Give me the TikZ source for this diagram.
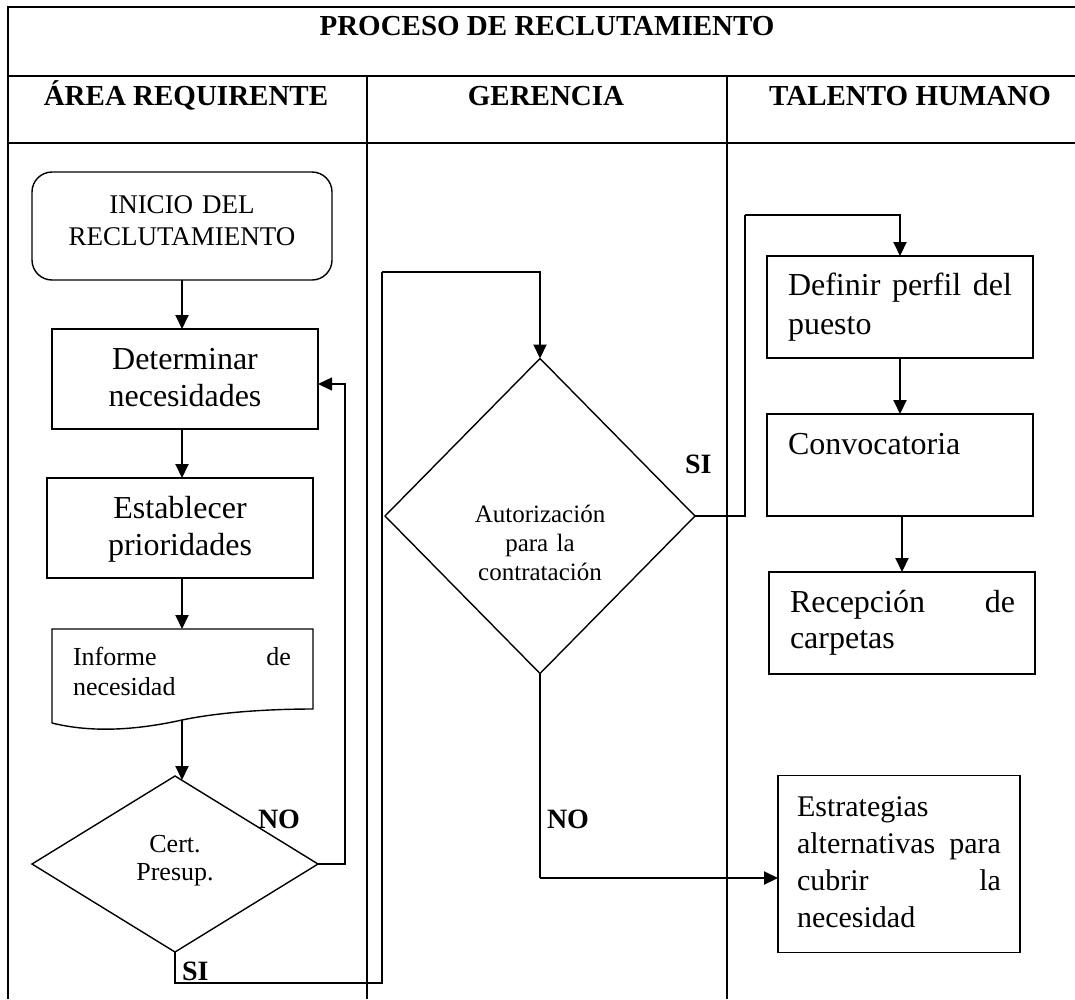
\documentclass[tikz,border=0pt]{standalone}
\usepackage{fontspec}
\setmainfont{Liberation Serif}
\usetikzlibrary{arrows.meta,shapes.geometric,calc}
\begin{document}
\begin{tikzpicture}[x=1pt,y=-1pt,
  grid/.style={line width=2.2pt},
  boxst/.style={draw,line width=1.4pt,inner sep=0pt,outer sep=0pt},
  dia/.style={diamond,draw,line width=1.4pt,inner sep=0pt,outer sep=0pt},
  txt/.style={inner sep=0pt,outer sep=0pt},
  head/.style={txt,font=\fontsize{29}{33}\selectfont\bfseries,anchor=base},
  lbl/.style={txt,font=\fontsize{28}{32}\selectfont\bfseries,anchor=base west},
  big/.style={txt,font=\fontsize{32}{37}\selectfont},
  conn/.style={line width=1.5pt},
  arr/.style={line width=2pt,-{Triangle[length=14pt,width=13pt]}},
  arrc/.style={line width=1.5pt,-{Triangle[length=14pt,width=13pt]}}
]
\useasboundingbox (0,0) rectangle (1075,999);
% ---- table ----
\draw[grid] (8,7) -- (1075,7);
\draw[grid] (8,76) -- (1075,76);
\draw[grid] (8,143) -- (1075,143);
\draw[grid] (8,6) -- (8,999);
\draw[grid] (367,76) -- (367,999);
\draw[grid] (727,76) -- (727,999);
\node[head] (title) at (547,35) {PROCESO DE RECLUTAMIENTO};
\node[head] (h1) at (186,105) {ÁREA REQUIRENTE};
\node[head] (h2) at (546,105) {GERENCIA};
\node[head] (h3) at (910,105) {TALENTO HUMANO};
% ---- area requirente ----
\node[boxst,rounded corners=20pt,minimum width=300pt,minimum height=108pt] (ini) at (182,226) {};
\node[txt,font=\fontsize{27}{32}\selectfont,text width=300pt,align=center,anchor=base] (init) at (182,213) {INICIO DEL\\RECLUTAMIENTO};
\node[boxst,minimum width=266pt,minimum height=100pt] (det) at (185,379) {};
\node[big,text width=266pt,align=center,anchor=base] (dett) at (185,369) {Determinar\\necesidades};
\node[boxst,minimum width=266pt,minimum height=100pt] (est) at (180,528) {};
\node[big,text width=266pt,align=center,anchor=base] (estt) at (180,518) {Establecer\\prioridades};
\coordinate (infTL) at (52,629);
\coordinate (infTR) at (313,629);
\coordinate (infBR) at (313,709);
\coordinate (infBL) at (52,723);
\coordinate (infB) at (182,720);
\draw[line width=1.4pt] (infBL) -- (infTL) -- (infTR) -- (infBR)
  .. controls (270,709) and (220,712) .. (infB)
  .. controls (150,727) and (100,735) .. (infBL);
\node[txt,font=\fontsize{26}{30}\selectfont,text width=218pt,align=left,anchor=base west] (inft) at (73,665) {\makebox[218pt][s]{Informe\hfill de}\\necesidad};
\node[dia,minimum width=286pt,minimum height=176pt] (cert) at (175,864) {};
\node[txt,font=\fontsize{26}{28}\selectfont,text width=120pt,align=center,anchor=base] (certt) at (175,852) {Cert.\\Presup.};
\coordinate (ax) at (182,0);
\draw[arr] (ini.south) -- (ini.south |- det.north);
\draw[arr] (ax |- det.south) -- (ax |- est.north);
\draw[arr] (ax |- est.south) -- (ax |- infTL);
\draw[arr] (infB) -- (182,780);
\coordinate (noL) at (345,384);
\draw[arrc] (cert.east) -| (noL) -- (noL -| det.east);
\node[lbl] (no1) at (258,828) {NO};
\coordinate (siA) at (382,983);
\coordinate (siB) at (382,272);
% ---- gerencia ----
\node[dia,minimum width=310pt,minimum height=315pt] (aut) at (540,516) {};
\node[txt,font=\fontsize{25}{29}\selectfont,text width=200pt,align=center,anchor=base] (autt) at (540,522) {Autorización\\para la\\contratación};
\draw[conn] (cert.south) |- (siA) -- (siB);
\draw[arr] (siB) -| (aut.north);
\node[lbl] (si1) at (182,980) {SI};
\node[lbl] (si2) at (685,473) {SI};
% ---- talento humano ----
\node[boxst,minimum width=266pt,minimum height=102pt] (def) at (900,307) {};
\node[big,font=\fontsize{32}{39}\selectfont,text width=224pt,align=left,anchor=base west] (deft) at (788,295) {\makebox[224pt][s]{Definir\hfill perfil\hfill del}\\puesto};
\node[boxst,minimum width=266pt,minimum height=102pt] (conv) at (900,465) {};
\node[big,anchor=base west] (convt) at (788,454) {Convocatoria};
\node[boxst,minimum width=266pt,minimum height=102pt] (rec) at (902,623) {};
\node[big,font=\fontsize{32}{36}\selectfont,text width=225pt,align=left,anchor=base west] (rect) at (790,612) {\makebox[225pt][s]{Recepción\hfill de}\\carpetas};
\node[boxst,minimum width=242pt,minimum height=177pt] (estr) at (899,864) {};
\node[txt,font=\fontsize{30}{37}\selectfont,text width=204pt,align=left,anchor=base west] (estrt) at (797,816) {Estrategias\\\makebox[204pt][s]{alternativas\hfill para}\\\makebox[204pt][s]{cubrir\hfill la}\\necesidad};
\coordinate (siC) at (745,215);
\draw[conn] (aut.east) -| (siC);
\draw[arr] (siC) -| (def.north);
\draw[arr] (def.south) -- (conv.north);
\draw[arr] (conv.south -| rec.north) -- (rec.north);
\coordinate (noG) at (540,878);
\draw[conn] (aut.south) -- (noG);
\draw[arr] (noG) -- (noG -| estr.west);
\node[lbl] (no2) at (547,828) {NO};
\end{tikzpicture}
\end{document}
